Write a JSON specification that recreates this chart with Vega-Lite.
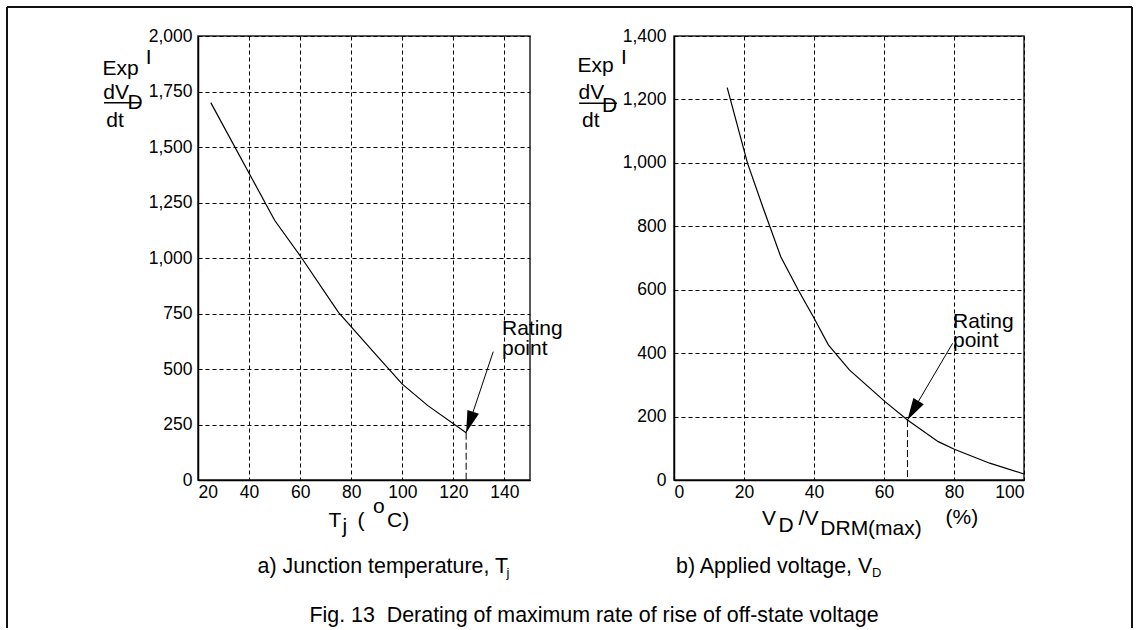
{
  "$schema": "https://vega.github.io/schema/vega-lite/v6.json",
  "background": "white",
  "padding": {"left": 5, "top": 5, "right": 0, "bottom": 0},
  "spacing": 144,
  "bounds": "flush",
  "config": {
    "font": "Liberation Sans",
    "view": {"stroke": "#222", "strokeWidth": 1.5},
    "axis": {
      "labelFont": "Liberation Sans",
      "labelFontSize": 17.5,
      "labelColor": "#000",
      "ticks": false,
      "domainColor": "#000",
      "domainWidth": 1.5,
      "grid": true,
      "gridColor": "#000",
      "gridDash": [4, 3],
      "gridOpacity": 1,
      "gridWidth": 1
    }
  },
  "hconcat": [
    {
      "width": 332,
      "height": 444,
      "layer": [
        {
          "data": {"values": [
            {"x": 25, "y": 1700}, {"x": 50, "y": 1170}, {"x": 60, "y": 1010}, {"x": 75, "y": 755},
            {"x": 90, "y": 560}, {"x": 100, "y": 432}, {"x": 110, "y": 335}, {"x": 125, "y": 213}
          ]},
          "mark": {"type": "line", "color": "#000", "strokeWidth": 1.2},
          "encoding": {
            "x": {"field": "x", "type": "quantitative",
              "scale": {"domain": [20, 150], "nice": false, "zero": false},
              "axis": {"title": null, "values": [20, 30, 40, 50, 60, 70, 80, 90, 100, 110, 120, 130, 140],
                "labelExpr": "datum.value % 20 === 0 ? datum.label : ''", "labelPadding": 3}},
            "y": {"field": "y", "type": "quantitative",
              "scale": {"domain": [0, 2000], "nice": false},
              "axis": {"title": null, "values": [0, 250, 500, 750, 1000, 1250, 1500, 1750, 2000], "format": ",d", "labelPadding": 6}}
          }
        },
        {
          "data": {"values": [{"x": 125, "y": 213, "y2": 0}]},
          "mark": {"type": "rule", "color": "#000", "strokeDash": [7, 3], "strokeWidth": 1},
          "encoding": {
            "x": {"field": "x", "type": "quantitative"},
            "y": {"field": "y", "type": "quantitative"},
            "y2": {"field": "y2"}
          }
        },
        {
          "data": {"values": [{"x": 135.6, "y": 578, "x2": 125, "y2": 213}]},
          "mark": {"type": "rule", "color": "#000", "strokeWidth": 1},
          "encoding": {
            "x": {"field": "x", "type": "quantitative"},
            "x2": {"field": "x2"},
            "y": {"field": "y", "type": "quantitative"},
            "y2": {"field": "y2"}
          }
        },
        {
          "data": {"values": [{"x": 125, "y": 213}]},
          "mark": {"type": "point", "shape": "M0,0L-0.55,-2L0.55,-2Z", "size": 484, "angle": 18.6, "filled": true, "color": "#000", "opacity": 1, "strokeWidth": 0},
          "encoding": {
            "x": {"field": "x", "type": "quantitative"},
            "y": {"field": "y", "type": "quantitative"}
          }
        },
        {
          "data": {"values": [
            {"x": -16.8, "x2": -2.7, "y": 1699.5}
          ]},
          "mark": {"type": "rule", "color": "#000", "strokeWidth": 1.5},
          "encoding": {
            "x": {"field": "x", "type": "quantitative"},
            "x2": {"field": "x2"},
            "y": {"field": "y", "type": "quantitative"}
          }
        },
        {
          "data": {"values": [
            {"x": -54.79, "x2": -54.79, "y": 2130.6, "y2": -666.7},
            {"x": -54.79, "x2": 385.72, "y": 2130.6, "y2": 2130.6},
            {"x": 385.72, "x2": 385.72, "y": 2130.6, "y2": -666.7}
          ]},
          "mark": {"type": "rule", "color": "#111", "strokeWidth": 2},
          "encoding": {
            "x": {"field": "x", "type": "quantitative"},
            "x2": {"field": "x2"},
            "y": {"field": "y", "type": "quantitative"},
            "y2": {"field": "y2"}
          }
        },
        {
          "data": {"values": [
            {"x": -17.4, "y": 1824.3, "t": "Exp"},
            {"x": -0.48, "y": 1873.9, "t": "I"},
            {"x": -17.1, "y": 1716.2, "t": "dV"},
            {"x": -7.6, "y": 1670.3, "t": "D"},
            {"x": -15.9, "y": 1591.4, "t": "dt"},
            {"x": 139.04, "y": 653.2, "t": "Rating"},
            {"x": 139.04, "y": 563.1, "t": "point"},
            {"x": 71.1, "y": -210.4, "t": "T"},
            {"x": 76.58, "y": -238.7, "t": "j"},
            {"x": 82.45, "y": -210.4, "t": "("},
            {"x": 88.52, "y": -148.6, "t": "o"},
            {"x": 94.0, "y": -210.4, "t": "C)"}
          ]},
          "mark": {"type": "text", "font": "Liberation Sans", "fontSize": 21, "align": "left", "baseline": "alphabetic", "color": "#000"},
          "encoding": {
            "x": {"field": "x", "type": "quantitative"},
            "y": {"field": "y", "type": "quantitative"},
            "text": {"field": "t"}
          }
        },
        {
          "data": {"values": [
            {"x": 43.3, "y": -417.6, "t": "a) Junction temperature, T"},
            {"x": 63.66, "y": -639.6, "t": "Fig. 13\u00a0 Derating of maximum rate of rise of off-state voltage"}
          ]},
          "mark": {"type": "text", "font": "Liberation Sans", "fontSize": 21.4, "align": "left", "baseline": "alphabetic", "color": "#000"},
          "encoding": {
            "x": {"field": "x", "type": "quantitative"},
            "y": {"field": "y", "type": "quantitative"},
            "text": {"field": "t"}
          }
        },
        {
          "data": {"values": [
            {"x": 140.8, "y": -436.9, "t": "j"}
          ]},
          "mark": {"type": "text", "font": "Liberation Sans", "fontSize": 13, "align": "left", "baseline": "alphabetic", "color": "#000"},
          "encoding": {
            "x": {"field": "x", "type": "quantitative"},
            "y": {"field": "y", "type": "quantitative"},
            "text": {"field": "t"}
          }
        }
      ]
    },
    {
      "width": 350,
      "height": 444,
      "layer": [
        {
          "data": {"values": [
            {"x": 15.2, "y": 1237}, {"x": 21.0, "y": 999}, {"x": 25.4, "y": 860}, {"x": 30.5, "y": 704},
            {"x": 35.5, "y": 599}, {"x": 39.8, "y": 515}, {"x": 44.1, "y": 426}, {"x": 50.1, "y": 347},
            {"x": 60.3, "y": 247}, {"x": 66.7, "y": 189}, {"x": 75.5, "y": 121}, {"x": 80.1, "y": 97},
            {"x": 90.2, "y": 53}, {"x": 100, "y": 19}
          ]},
          "mark": {"type": "line", "color": "#000", "strokeWidth": 1.2},
          "encoding": {
            "x": {"field": "x", "type": "quantitative",
              "scale": {"domain": [0, 100], "nice": false, "zero": false},
              "axis": {"title": null, "values": [0, 10, 20, 30, 40, 50, 60, 70, 80, 90, 100],
                "labelExpr": "datum.value % 20 === 0 ? datum.label : ''", "labelPadding": 3}},
            "y": {"field": "y", "type": "quantitative",
              "scale": {"domain": [0, 1400], "nice": false},
              "axis": {"title": null, "values": [0, 200, 400, 600, 800, 1000, 1200, 1400], "format": ",d", "labelPadding": 8}}
          }
        },
        {
          "data": {"values": [{"x": 66.7, "y": 189, "y2": 0}]},
          "mark": {"type": "rule", "color": "#000", "strokeDash": [7, 3], "strokeWidth": 1},
          "encoding": {
            "x": {"field": "x", "type": "quantitative"},
            "y": {"field": "y", "type": "quantitative"},
            "y2": {"field": "y2"}
          }
        },
        {
          "data": {"values": [{"x": 79.6, "y": 431, "x2": 66.7, "y2": 189}]},
          "mark": {"type": "rule", "color": "#000", "strokeWidth": 1},
          "encoding": {
            "x": {"field": "x", "type": "quantitative"},
            "x2": {"field": "x2"},
            "y": {"field": "y", "type": "quantitative"},
            "y2": {"field": "y2"}
          }
        },
        {
          "data": {"values": [{"x": 66.7, "y": 189}]},
          "mark": {"type": "point", "shape": "M0,0L-0.55,-2L0.55,-2Z", "size": 484, "angle": 30.4, "filled": true, "color": "#000", "opacity": 1, "strokeWidth": 0},
          "encoding": {
            "x": {"field": "x", "type": "quantitative"},
            "y": {"field": "y", "type": "quantitative"}
          }
        },
        {
          "data": {"values": [
            {"x": -27.1, "x2": -16.3, "y": 1187.8}
          ]},
          "mark": {"type": "rule", "color": "#000", "strokeWidth": 1.5},
          "encoding": {
            "x": {"field": "x", "type": "quantitative"},
            "x2": {"field": "x2"},
            "y": {"field": "y", "type": "quantitative"}
          }
        },
        {
          "data": {"values": [
            {"x": -27.57, "y": 1286.3, "t": "Exp"},
            {"x": -15.14, "y": 1311.8, "t": "I"},
            {"x": -27.3, "y": 1201.4, "t": "dV"},
            {"x": -20.6, "y": 1160.4, "t": "D"},
            {"x": -26.3, "y": 1114, "t": "dt"},
            {"x": 79.71, "y": 478.3, "t": "Rating"},
            {"x": 79.71, "y": 420.3, "t": "point"},
            {"x": 25.14, "y": -141.9, "t": "V"},
            {"x": 29.86, "y": -164, "t": "D"},
            {"x": 35.6, "y": -141.9, "t": "/V"},
            {"x": 41.8, "y": -173.4, "t": "DRM(max)"},
            {"x": 77.57, "y": -138.7, "t": "(%)"}
          ]},
          "mark": {"type": "text", "font": "Liberation Sans", "fontSize": 21, "align": "left", "baseline": "alphabetic", "color": "#000"},
          "encoding": {
            "x": {"field": "x", "type": "quantitative"},
            "y": {"field": "y", "type": "quantitative"},
            "text": {"field": "t"}
          }
        },
        {
          "data": {"values": [
            {"x": 0.57, "y": -292.3, "t": "b) Applied voltage, V"}
          ]},
          "mark": {"type": "text", "font": "Liberation Sans", "fontSize": 21.4, "align": "left", "baseline": "alphabetic", "color": "#000"},
          "encoding": {
            "x": {"field": "x", "type": "quantitative"},
            "y": {"field": "y", "type": "quantitative"},
            "text": {"field": "t"}
          }
        },
        {
          "data": {"values": [
            {"x": 56.6, "y": -304.9, "t": "D"}
          ]},
          "mark": {"type": "text", "font": "Liberation Sans", "fontSize": 13, "align": "left", "baseline": "alphabetic", "color": "#000"},
          "encoding": {
            "x": {"field": "x", "type": "quantitative"},
            "y": {"field": "y", "type": "quantitative"},
            "text": {"field": "t"}
          }
        }
      ]
    }
  ]
}
